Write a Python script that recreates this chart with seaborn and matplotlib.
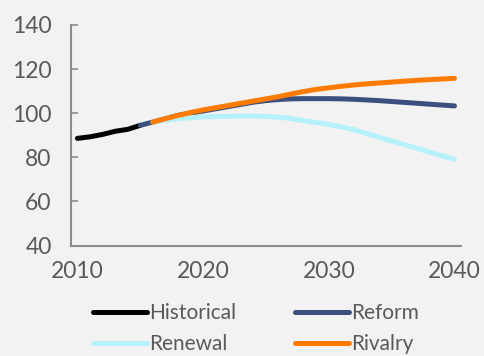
import matplotlib
matplotlib.use("Agg")
import matplotlib.pyplot as plt
import seaborn as sns
import pandas as pd

# ---------------- data ----------------
hist_years = list(range(2010, 2016))
historical = [88.6, 89.3, 90.4, 91.8, 92.7, 94.5]

reform_years = list(range(2015, 2041))
reform = [94.5, 96.0, 97.5, 99.0, 100.0, 101.0, 102.0, 103.0, 104.0, 105.0,
          105.7, 106.2, 106.5, 106.6, 106.6, 106.6, 106.5, 106.3, 106.0, 105.7,
          105.3, 104.9, 104.5, 104.1, 103.7, 103.3]

scen_years = list(range(2016, 2041))
renewal = [96.0, 96.8, 97.5, 98.0, 98.3, 98.5, 98.6, 98.7, 98.7, 98.6,
           98.2, 97.6, 96.6, 95.8, 94.9, 93.8, 92.5, 90.8, 89.1, 87.4,
           85.8, 84.1, 82.4, 80.7, 79.1]
rivalry = [96.0, 97.5, 99.0, 100.3, 101.5, 102.5, 103.5, 104.5, 105.5, 106.5,
           107.5, 108.7, 109.8, 110.8, 111.5, 112.2, 112.8, 113.3, 113.7, 114.1,
           114.5, 114.9, 115.2, 115.5, 115.8]

series = ["Historical", "Reform", "Renewal", "Rivalry"]
colors = {"Historical": "#000000", "Reform": "#3c5080",
          "Renewal": "#b4f1fb", "Rivalry": "#ff7b00"}

df = pd.concat([
    pd.DataFrame({"Year": hist_years, "Value": historical, "Series": "Historical"}),
    pd.DataFrame({"Year": reform_years, "Value": reform, "Series": "Reform"}),
    pd.DataFrame({"Year": scen_years, "Value": renewal, "Series": "Renewal"}),
    pd.DataFrame({"Year": scen_years, "Value": rivalry, "Series": "Rivalry"}),
])

# ---------------- style ----------------
sns.set_theme(style="white")
bg = "#f2f2f2"
txt = "#595959"
plt.rcParams["font.family"] = ["Lato", "DejaVu Sans"]
plt.rcParams.update({"figure.facecolor": bg, "axes.facecolor": bg,
                     "savefig.facecolor": bg})

fig, ax = plt.subplots(figsize=(4.84, 3.56), dpi=100)
fig.subplots_adjust(left=0.147, right=0.952, top=0.93, bottom=0.31)

sns.lineplot(data=df, x="Year", y="Value", hue="Series", hue_order=series,
             palette=colors, linewidth=3.6, solid_capstyle="round", ax=ax)

ax.set_xlim(2009.5, 2040.5)
ax.set_ylim(40, 140)
ax.set_xticks([2010, 2020, 2030, 2040])
ax.set_yticks(range(40, 141, 20))
ax.set_xlabel("")
ax.set_ylabel("")

for s in ["top", "right"]:
    ax.spines[s].set_visible(False)
for s in ["left", "bottom"]:
    ax.spines[s].set_color("#8c8c8c")
    ax.spines[s].set_linewidth(1.5)

ax.tick_params(axis="y", direction="in", length=5, width=1.2, color="#8c8c8c",
               labelsize=16.5, labelcolor=txt, pad=14, left=True)
ax.tick_params(axis="x", length=0, labelsize=16.5, labelcolor=txt, pad=11)

handles, labels = ax.get_legend_handles_labels()
order = [0, 2, 1, 3]
ax.legend([handles[i] for i in order], [labels[i] for i in order],
          loc="upper left", bbox_to_anchor=(0.056, -0.262), ncol=2,
          frameon=False, fontsize=15, labelcolor=txt, handlelength=2.6,
          handletextpad=0.1, columnspacing=2.8, labelspacing=0.5,
          borderaxespad=0, borderpad=0)

plt.savefig("out.png", dpi=100)
